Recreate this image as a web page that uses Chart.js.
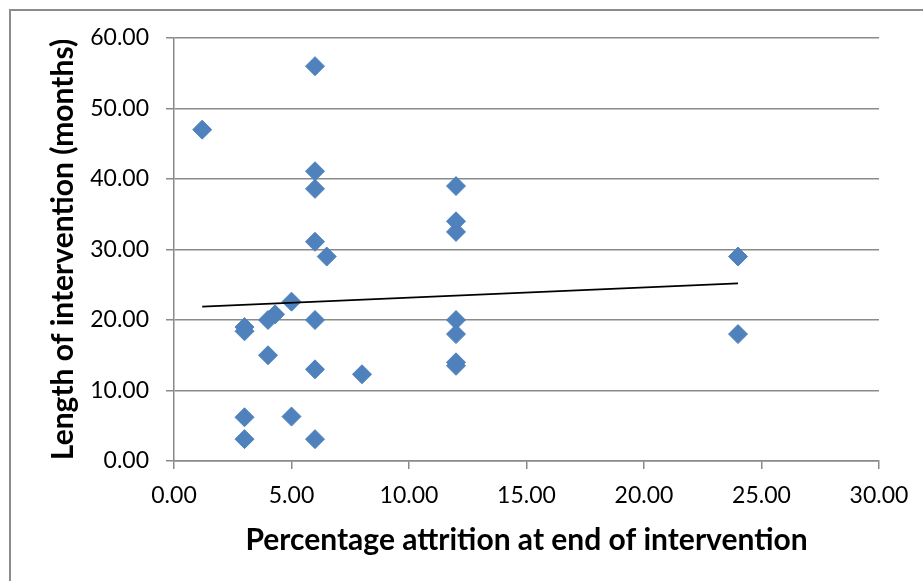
<!DOCTYPE html>
<html>
<head>
<meta charset="utf-8">
<script src="https://cdn.jsdelivr.net/npm/chart.js@4"></script>
<style>
  html, body { margin: 0; padding: 0; background: #fff; overflow: hidden; }
  #wrap { position: relative; width: 923px; height: 581px; }
  #frame { position: absolute; left: 9px; top: 9px; width: 940px; height: 600px;
           border-left: 2px solid #8c8c8c; border-top: 2px solid #8c8c8c; }
  canvas { position: absolute; left: 0; top: 0; }
</style>
</head>
<body>
<div id="wrap">
  <div id="frame"></div>
  <canvas id="chart" width="923" height="581"></canvas>
</div>
<script>
// attrition % (x) vs length of intervention in months (y)
const attrition = [1.2, 6, 6, 6, 6, 6.5, 5, 4.3, 4, 3, 3, 6, 4, 6, 8, 3, 3, 5, 6,
                   12, 12, 12, 12, 12, 12, 12, 24, 24];
const lengthMonths = [47, 56, 41.1, 38.6, 31.1, 29, 22.6, 20.8, 20, 19, 18.4, 20, 15, 13, 12.3, 6.2, 3.1, 6.3, 3.1,
                      39, 34, 32.5, 20, 18, 14, 13.5, 29, 18];

// linear trendline ends
const trendX = [1.2, 24];
const trendY = [21.9, 25.2];

const xTitle = "Percentage attrition at end of intervention";
const yTitle = "Length of intervention (months)";

const points = attrition.map((x, i) => ({ x: x, y: lengthMonths[i] }));
const trend = trendX.map((x, i) => ({ x: x, y: trendY[i] }));

const gridGray = '#8a8a8a';

new Chart(document.getElementById('chart').getContext('2d'), {
    type: 'scatter',
    data: {
        datasets: [
            {
                type: 'line',
                data: trend,
                borderColor: '#000',
                borderWidth: 1.75,
                pointRadius: 0,
                fill: false,
                order: 0
            },
            {
                data: points,
                pointStyle: 'rectRot',
                pointRadius: 9.5,
                backgroundColor: '#4f81bd',
                borderColor: '#4f81bd',
                borderWidth: 1,
                order: 1
            }
        ]
    },
    options: {
        responsive: false,
        animation: false,
        layout: { padding: { left: 0, right: 44, top: 38, bottom: 0 } },
        plugins: { legend: { display: false }, tooltip: { enabled: false } },
        scales: {
            x: {
                type: 'linear',
                min: 0, max: 30,
                afterFit: s => { s.height = 120; },
                ticks: {
                    stepSize: 5,
                    color: '#000',
                    padding: 13,
                    font: { family: 'Lato', size: 23 },
                    callback: v => v.toFixed(2)
                },
                grid: { drawOnChartArea: false, drawTicks: true, tickLength: 8, color: gridGray, lineWidth: 1.5 },
                border: { display: true, color: gridGray, width: 1.5 },
                title: {
                    display: true,
                    text: xTitle,
                    color: '#000',
                    font: { family: 'Lato', size: 30, weight: 'bold' },
                    padding: { bottom: 23 }
                }
            },
            y: {
                min: 0, max: 60,
                afterFit: s => { s.width = 174; },
                ticks: {
                    stepSize: 10,
                    color: '#000',
                    padding: 17,
                    font: { family: 'Lato', size: 23 },
                    callback: v => v.toFixed(2)
                },
                grid: { drawTicks: true, tickLength: 8, color: gridGray, lineWidth: 1.5 },
                border: { display: true, color: gridGray, width: 1.5 },
                title: {
                    display: true,
                    text: yTitle,
                    color: '#000',
                    font: { family: 'Lato', size: 30, weight: 'bold' },
                    padding: { top: 45 }
                }
            }
        }
    }
});
</script>
</body>
</html>
